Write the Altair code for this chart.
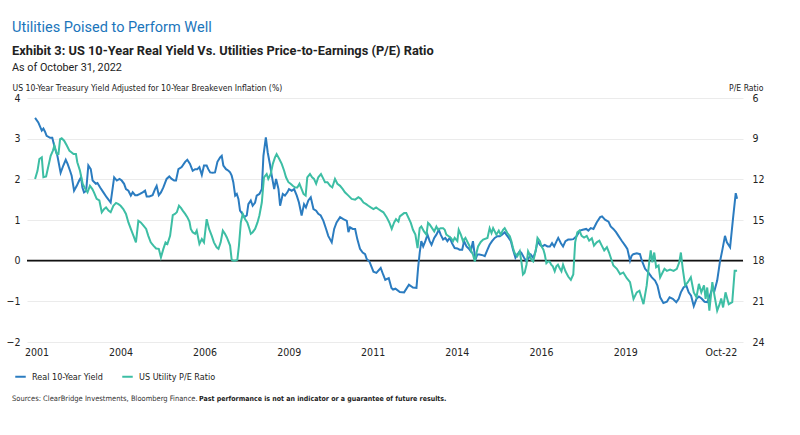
import altair as alt
import pandas as pd

# ---- texts ----
TITLE = "Utilities Poised to Perform Well"
EXHIBIT = "Exhibit 3: US 10-Year Real Yield Vs. Utilities Price-to-Earnings (P/E) Ratio"
ASOF = "As of October 31, 2022"
LEFT_TITLE = "US 10-Year Treasury Yield Adjusted for 10-Year Breakeven Inflation (%)"
RIGHT_TITLE = "P/E Ratio"
SOURCES = "Sources: ClearBridge Investments, Bloomberg Finance."
DISCLAIMER = "Past performance is not an indicator or a guarantee of future results."
SERIES = ["Real 10-Year Yield", "US Utility P/E Ratio"]
COLORS = ["#2b7cc0", "#3dbea4"]

# ---- axes ----
x_tick_pos = [0.5, 31.8, 63.0, 94.3, 125.5, 156.8, 188.1, 219.4, 255.0]
x_tick_labels = ["2001", "2004", "2006", "2009", "2011", "2014", "2016", "2019", "Oct-22"]
yield_ticks = [-2, -1, 0, 1, 2, 3, 4]
pe_ticks = [6, 9, 12, 15, 18, 21, 24]

# ---- data: [month index since Jan 2001, value] ----
real_yield = [
    [0, 3.51], [1.2, 3.40], [2.5, 3.20], [3.1, 3.25], [3.7, 3.17], [4.3, 3.07], [5.6, 3.02], [6.4, 3.02],
    [7.4, 2.75], [8.3, 2.58], [9.5, 2.16], [10.5, 2.34], [11.4, 2.48], [12.1, 2.38], [13.0, 2.21],
    [13.6, 2.09], [14.5, 1.72], [15.5, 1.84], [16.4, 1.97], [17.1, 2.05], [17.6, 1.80], [18.2, 1.68],
    [19.0, 1.72], [19.8, 2.34], [20.7, 2.25], [21.4, 1.97], [22.6, 1.89], [23.2, 1.91], [24.2, 1.80],
    [25.4, 1.68], [26.6, 1.56], [28.1, 1.43], [29.4, 2.05], [30.4, 1.97], [31.4, 2.01], [32.2, 1.97],
    [33.1, 1.89], [33.8, 1.76], [34.7, 1.72], [35.6, 1.60], [36.3, 1.68], [37.2, 1.61], [38.0, 1.61],
    [39.0, 1.64], [40.0, 1.68], [40.9, 1.72], [41.5, 1.58], [42.5, 1.58], [43.7, 1.61], [44.6, 1.76],
    [45.2, 1.84], [46.0, 1.61], [46.8, 1.68], [47.7, 1.80], [48.9, 2.01], [49.9, 2.07], [50.8, 2.01],
    [51.7, 1.97], [52.4, 1.97], [53.3, 2.25], [54.5, 2.30], [55.8, 2.43], [56.6, 2.48], [57.6, 2.38],
    [58.6, 2.21], [59.5, 2.25], [60.3, 2.25], [61.1, 2.30], [62.0, 2.11], [62.8, 2.34], [63.8, 2.34],
    [64.4, 2.25], [65.1, 2.17], [66.0, 2.16], [66.9, 2.17], [67.8, 2.43], [68.8, 2.54], [69.4, 2.58],
    [70.0, 2.34], [71.0, 2.25], [71.9, 2.21], [72.5, 2.17], [73.1, 2.09], [73.7, 1.93], [74.4, 1.60],
    [75.0, 1.64], [75.6, 1.52], [76.2, 1.23], [77.1, 1.15], [77.8, 1.07], [78.7, 1.11], [79.3, 1.39],
    [80.2, 1.48], [80.9, 1.35], [81.8, 1.43], [82.4, 1.60], [83.4, 1.64], [84.3, 1.76], [84.9, 2.58],
    [85.8, 3.03], [86.5, 2.66], [87.4, 2.34], [88.0, 2.09], [88.9, 1.76], [89.6, 2.01], [90.5, 1.76],
    [91.1, 1.35], [92.1, 1.64], [92.9, 1.60], [93.8, 1.68], [94.4, 1.76], [95.4, 1.72], [96.3, 1.76],
    [97.3, 1.60], [98.1, 1.43], [99.1, 1.11], [100.0, 1.39], [100.7, 1.31], [101.6, 1.48], [102.5, 1.56],
    [103.5, 1.27], [104.5, 1.23], [105.3, 1.15], [106.2, 1.11], [107.2, 0.98], [108.2, 0.78], [109.0, 0.61],
    [110.3, 0.45], [111.2, 0.78], [112.1, 0.94], [113.4, 1.07], [114.6, 1.02], [115.9, 0.98], [116.5, 0.70],
    [117.1, 0.82], [118.1, 0.78], [119.0, 0.78], [119.8, 0.53], [120.8, 0.29], [121.8, 0.20], [122.7, 0.16],
    [123.3, 0.04], [124.3, -0.02], [125.8, -0.27], [126.9, -0.30], [128.5, -0.18], [129.4, -0.34],
    [130.2, -0.47], [131.5, -0.43], [132.5, -0.67], [133.1, -0.71], [134.0, -0.69], [135.6, -0.77],
    [137.2, -0.78], [139.0, -0.59], [140.5, -0.66], [141.8, -0.67], [142.4, -0.18], [143.0, 0.19],
    [143.6, 0.48], [144.3, 0.35], [145.1, 0.48], [145.9, 0.64], [146.7, 0.48], [147.4, 0.39], [148.4, 0.56],
    [149.2, 0.64], [150.1, 0.76], [150.8, 0.64], [151.7, 0.52], [152.5, 0.56], [153.3, 0.48], [154.2, 0.56],
    [155.0, 0.43], [156.0, 0.31], [157.0, 0.30], [157.8, 0.27], [158.8, 0.27], [159.5, 0.48], [160.4, 0.35],
    [161.2, 0.30], [162.0, 0.23], [162.8, 0.48], [163.7, 0.02], [164.4, 0.15], [165.2, 0.15], [166.6, 0.13],
    [167.2, 0.11], [168.2, 0.27], [169.0, 0.39], [169.9, 0.48], [170.9, 0.56], [171.9, 0.60], [172.8, 0.60],
    [173.6, 0.64], [174.6, 0.70], [175.2, 0.64], [176.1, 0.56], [176.9, 0.48], [177.7, 0.27], [178.6, 0.07],
    [179.3, 0.15], [180.2, 0.23], [180.8, 0.19], [181.8, 0.07], [182.7, -0.02], [183.6, 0.07], [184.3, 0.15],
    [185.2, 0.07], [186.1, 0.23], [186.8, 0.48], [187.7, 0.39], [188.5, 0.35], [189.5, 0.39], [190.5, 0.35],
    [191.4, 0.35], [192.2, 0.43], [193.0, 0.35], [193.9, 0.48], [194.5, 0.56], [195.5, 0.43], [196.3, 0.35],
    [197.2, 0.48], [198.2, 0.52], [199.2, 0.52], [200.1, 0.53], [201.4, 0.61], [202.6, 0.74], [203.6, 0.76],
    [204.9, 0.78], [205.7, 0.74], [206.6, 0.80], [207.6, 0.78], [208.8, 0.94], [210.1, 1.07], [210.8, 1.09],
    [211.9, 1.01], [213.2, 0.96], [214.0, 0.84], [215.0, 0.78], [216.0, 0.70], [216.9, 0.61], [218.1, 0.49],
    [219.4, 0.37], [220.2, 0.29], [221.2, 0.00], [221.8, 0.12], [222.4, 0.16], [223.7, 0.18], [224.9, 0.16],
    [225.6, 0.00], [226.8, -0.20], [228.0, -0.29], [229.3, -0.41], [230.5, -0.49], [231.4, -0.61],
    [232.4, -0.90], [233.6, -1.04], [234.9, -1.01], [235.9, -0.90], [237.1, -0.94], [238.4, -1.02],
    [239.3, -0.94], [240.1, -0.78], [241.1, -0.66], [242.1, -0.61], [243.0, -0.78], [243.9, -0.86],
    [244.9, -1.12], [245.9, -0.94], [246.8, -0.88], [247.8, -0.93], [248.9, -1.01], [249.9, -1.02],
    [250.9, -0.86], [251.8, -0.68], [252.6, -0.74], [253.6, -0.49], [254.6, -0.04], [255.6, 0.29],
    [256.5, 0.61], [257.2, 0.45], [258.4, 0.33], [259.6, 1.11], [260.5, 1.66], [261.0, 1.52],
]

utility_pe = [
    [0, 11.97], [0.9, 11.37], [1.6, 10.50], [2.5, 10.38], [3.1, 11.85], [4.1, 11.79], [5.0, 10.98],
    [5.8, 10.26], [6.6, 9.90], [7.2, 9.51], [8.1, 10.14], [8.7, 10.14], [9.3, 9.03], [9.9, 8.97],
    [10.8, 9.15], [11.8, 9.51], [12.8, 9.90], [13.6, 10.02], [14.3, 10.14], [15.2, 10.14], [15.7, 10.74],
    [16.7, 11.37], [17.7, 12.33], [18.7, 12.72], [19.5, 12.96], [20.4, 12.48], [21.3, 12.72], [21.9, 12.96],
    [22.9, 13.44], [23.9, 13.56], [24.8, 14.43], [25.7, 14.19], [26.4, 14.07], [27.3, 14.31], [28.1, 14.43],
    [29.1, 13.95], [30.1, 13.74], [31.0, 13.83], [31.8, 13.95], [32.8, 14.19], [33.8, 14.55], [34.7, 15.18],
    [35.6, 15.66], [36.6, 16.17], [37.5, 16.65], [38.4, 15.06], [39.3, 15.18], [40.3, 15.42], [41.3, 15.66],
    [42.1, 16.17], [43.0, 16.65], [44.0, 16.89], [45.0, 17.10], [46.0, 17.13], [46.8, 17.76], [47.7, 17.13],
    [48.5, 16.65], [49.2, 16.77], [50.2, 16.17], [51.2, 14.64], [52.0, 14.55], [52.7, 14.43], [53.5, 13.95],
    [54.3, 14.13], [54.9, 14.31], [55.8, 14.55], [56.6, 14.79], [57.4, 15.12], [57.9, 15.66], [58.6, 15.90],
    [59.5, 16.02], [60.1, 15.78], [61.1, 16.77], [62.0, 16.41], [62.8, 16.65], [63.8, 14.94], [64.7, 15.66],
    [65.7, 16.17], [66.5, 16.65], [67.5, 17.01], [68.2, 17.13], [69.0, 16.65], [69.8, 15.78], [70.6, 16.02],
    [71.3, 16.29], [72.5, 16.89], [73.1, 17.94], [73.7, 18.00], [74.4, 18.00], [75.2, 17.94], [75.8, 16.89],
    [76.5, 15.18], [77.2, 14.55], [78.1, 14.94], [78.9, 15.18], [79.7, 15.66], [80.2, 16.02], [80.9, 15.90],
    [81.8, 15.66], [82.7, 15.18], [83.4, 14.67], [84.3, 13.71], [85.1, 11.85], [86.1, 11.61], [86.7, 11.97],
    [87.6, 11.61], [88.4, 10.86], [89.2, 10.38], [89.8, 10.14], [90.8, 10.50], [91.7, 10.86], [92.6, 11.37],
    [93.3, 11.85], [94.2, 12.21], [95.0, 12.33], [95.8, 12.48], [96.7, 12.60], [97.5, 12.60], [98.3, 12.33],
    [99.1, 12.72], [99.8, 13.08], [100.6, 13.20], [101.2, 11.85], [102.2, 11.61], [103.0, 11.85],
    [103.7, 11.97], [104.5, 12.33], [105.3, 11.85], [106.3, 11.61], [107.2, 11.97], [107.8, 12.21],
    [108.7, 12.21], [109.7, 12.48], [110.5, 12.60], [111.5, 11.97], [112.4, 12.33], [113.4, 12.48],
    [114.4, 12.72], [115.2, 12.96], [116.5, 13.20], [117.7, 13.44], [119.0, 13.50], [120.2, 13.32],
    [121.1, 13.44], [122.1, 13.71], [123.1, 13.83], [123.9, 13.95], [124.8, 14.07], [125.8, 14.19],
    [126.8, 14.07], [127.6, 14.19], [128.5, 14.31], [129.5, 14.43], [130.7, 14.79], [131.7, 15.18],
    [132.6, 15.66], [133.5, 15.18], [134.2, 14.94], [135.1, 15.12], [135.6, 14.73], [137.2, 14.49],
    [138.0, 14.49], [139.7, 15.21], [140.5, 15.72], [141.4, 16.08], [142.2, 17.07], [142.6, 16.32],
    [143.0, 15.60], [143.6, 15.48], [144.6, 15.84], [145.5, 16.08], [146.1, 15.21], [146.7, 15.33],
    [147.6, 15.60], [148.4, 15.84], [149.2, 15.48], [149.8, 15.72], [150.8, 15.60], [151.7, 15.60],
    [152.3, 15.72], [152.9, 16.08], [153.8, 16.20], [154.6, 16.32], [155.4, 16.56], [156.0, 16.32],
    [157.0, 16.56], [157.5, 15.72], [158.3, 16.08], [159.1, 16.56], [160.0, 16.32], [161.0, 16.71],
    [161.6, 16.95], [162.2, 17.31], [162.8, 17.55], [163.5, 18.06], [164.1, 17.43], [164.7, 16.95],
    [165.7, 16.62], [166.6, 16.44], [168.2, 16.32], [169.0, 15.60], [169.7, 15.96], [170.3, 15.60],
    [170.9, 15.84], [171.5, 16.08], [172.4, 15.78], [173.1, 16.08], [174.0, 15.72], [174.6, 15.60],
    [175.6, 15.96], [176.5, 16.20], [177.1, 16.56], [177.7, 17.07], [178.3, 17.43], [179.3, 17.67],
    [180.2, 17.31], [180.8, 18.06], [181.4, 19.02], [182.0, 18.90], [182.7, 18.30], [183.3, 17.31],
    [183.9, 17.55], [184.5, 17.94], [185.2, 18.06], [185.8, 17.55], [186.4, 16.95], [186.8, 16.32],
    [187.7, 16.56], [188.3, 16.95], [189.0, 17.19], [189.5, 17.55], [190.1, 18.18], [190.7, 18.06],
    [191.3, 18.06], [191.9, 18.30], [192.5, 18.42], [193.2, 18.78], [193.8, 18.42], [194.4, 18.30],
    [195.0, 18.54], [195.7, 18.78], [196.3, 18.30], [197.2, 18.78], [198.2, 19.17], [199.2, 19.41],
    [200.1, 19.02], [200.8, 16.65], [201.6, 15.90], [202.4, 15.78], [203.2, 16.17], [204.1, 16.29],
    [205.1, 16.17], [206.0, 16.53], [207.0, 16.35], [207.8, 16.89], [208.8, 16.65], [209.8, 16.53],
    [210.7, 16.89], [211.6, 17.25], [212.6, 17.01], [213.4, 17.40], [214.2, 17.88], [215.0, 18.36],
    [216.3, 18.60], [217.5, 18.99], [218.7, 18.87], [220.0, 19.29], [221.2, 19.59], [222.5, 20.82],
    [223.7, 20.34], [224.7, 20.22], [226.2, 21.21], [227.4, 19.83], [228.4, 18.00], [228.9, 17.25],
    [229.5, 18.12], [230.2, 17.40], [230.9, 18.48], [231.8, 18.36], [232.4, 19.23], [233.3, 18.87],
    [234.0, 18.60], [234.9, 18.75], [236.1, 18.66], [237.4, 18.75], [238.6, 18.60], [239.5, 18.12],
    [240.1, 17.40], [240.8, 18.60], [241.7, 19.83], [242.7, 19.59], [243.8, 19.23], [244.9, 20.34],
    [245.9, 20.70], [246.8, 19.71], [247.7, 20.34], [248.7, 19.83], [249.3, 20.82], [249.9, 19.98],
    [250.7, 21.69], [251.8, 19.59], [252.6, 20.58], [253.6, 21.69], [254.5, 21.21], [255.1, 20.79],
    [255.8, 21.45], [256.7, 20.34], [257.9, 21.21], [259.2, 21.06], [260.1, 18.75], [261.0, 18.75],
]

NARROW = "DejaVu Sans Condensed, Liberation Sans Narrow, Roboto, sans-serif"
HEAD = "Roboto, Liberation Sans, sans-serif"
TXT = "#222222"

yield_df = pd.DataFrame(real_yield, columns=["month", "value"])
yield_df["series"] = SERIES[0]
pe_df = pd.DataFrame(utility_pe, columns=["month", "pe"])
pe_df["series"] = SERIES[1]

label_expr = "[{}][indexof([{}], datum.value)]".format(
    ",".join("'{}'".format(s) for s in x_tick_labels),
    ",".join(str(v) for v in x_tick_pos),
)

x_enc = alt.X(
    "month:Q",
    scale=alt.Scale(domain=[-3, 263.2], nice=False, zero=False),
    axis=alt.Axis(values=x_tick_pos, labelExpr=label_expr, grid=False, ticks=False, domain=False,
                  labelPadding=5, labelFontSize=10.5, labelFont=NARROW, labelColor=TXT,
                  labelBaseline="top", title=None),
)

color_enc = alt.Color(
    "series:N",
    scale=alt.Scale(domain=SERIES, range=COLORS),
    legend=alt.Legend(orient="none", legendX=-13, legendY=272, direction="horizontal", title=None,
                      symbolType="stroke", symbolStrokeWidth=2, symbolSize=110, labelFont=NARROW,
                      labelFontSize=9.0, labelColor=TXT, labelOffset=5, columnPadding=15),
)

zero_rule = alt.Chart(pd.DataFrame({"y": [0]})).mark_rule(color="#111111", strokeWidth=1.6).encode(
    y=alt.Y("y:Q", scale=alt.Scale(domain=[-2, 4], nice=False, zero=False), axis=None)
)

yield_line = alt.Chart(yield_df).mark_line(strokeWidth=2).encode(
    x=x_enc,
    y=alt.Y("value:Q", scale=alt.Scale(domain=[-2, 4], nice=False, zero=False),
            axis=alt.Axis(orient="left", values=yield_ticks, title=LEFT_TITLE, titleAngle=0,
                          titleAlign="left", titleX=-15, titleY=-11, titleBaseline="middle",
                          titleFont=NARROW, titleFontSize=8.6, titleFontWeight="normal", titleColor=TXT,
                          grid=True, gridColor="#ebebeb", gridWidth=1, ticks=False, domain=False,
                          labelPadding=7, labelFont=NARROW, labelFontSize=10.5, labelColor=TXT)),
    color=color_enc,
)

pe_line = alt.Chart(pe_df).mark_line(strokeWidth=2).encode(
    x=x_enc,
    y=alt.Y("pe:Q", scale=alt.Scale(domain=[6, 24], reverse=True, nice=False, zero=False),
            axis=alt.Axis(orient="right", values=pe_ticks, title=RIGHT_TITLE, titleAngle=0,
                          titleAlign="right", titleX=20, titleY=-11, titleBaseline="middle",
                          titleFont=NARROW, titleFontSize=8.6, titleFontWeight="normal", titleColor=TXT,
                          grid=False, ticks=False, domain=False,
                          labelPadding=9, labelFont=NARROW, labelFontSize=10.5, labelColor=TXT)),
    color=color_enc,
)


def label(text, x, y, size, font, color=TXT, weight="normal"):
    return alt.Chart(pd.DataFrame({"t": [text]})).mark_text(
        align="left", baseline="alphabetic", font=font, fontSize=size, color=color, fontWeight=weight
    ).encode(x=alt.value(x), y=alt.value(y), text="t:N")


title_l = label(TITLE, -15, -66, 14.5, HEAD, color="#1b75bb")
exhibit_l = label(EXHIBIT, -15, -43.5, 12.8, HEAD, weight="bold")
asof_l = label(ASOF, -15, -27.5, 10.8, HEAD)
src_l = label(SOURCES, -15, 302.5, 7.5, NARROW, color="#333333")
disc_l = label(DISCLAIMER, 172, 302.5, 7.0, NARROW, color="#222222", weight="bold")

chart = alt.layer(
    zero_rule, yield_line, pe_line, title_l, exhibit_l, asof_l, src_l, disc_l
).resolve_scale(y="independent").properties(
    width=716, height=244,
    padding={"left": 27, "top": 98, "right": 57, "bottom": 93},
    autosize=alt.AutoSizeParams(type="none"),
    background="white",
).configure_view(stroke=None)

chart.save("out.html", embed_options={"renderer": "svg", "actions": False})
